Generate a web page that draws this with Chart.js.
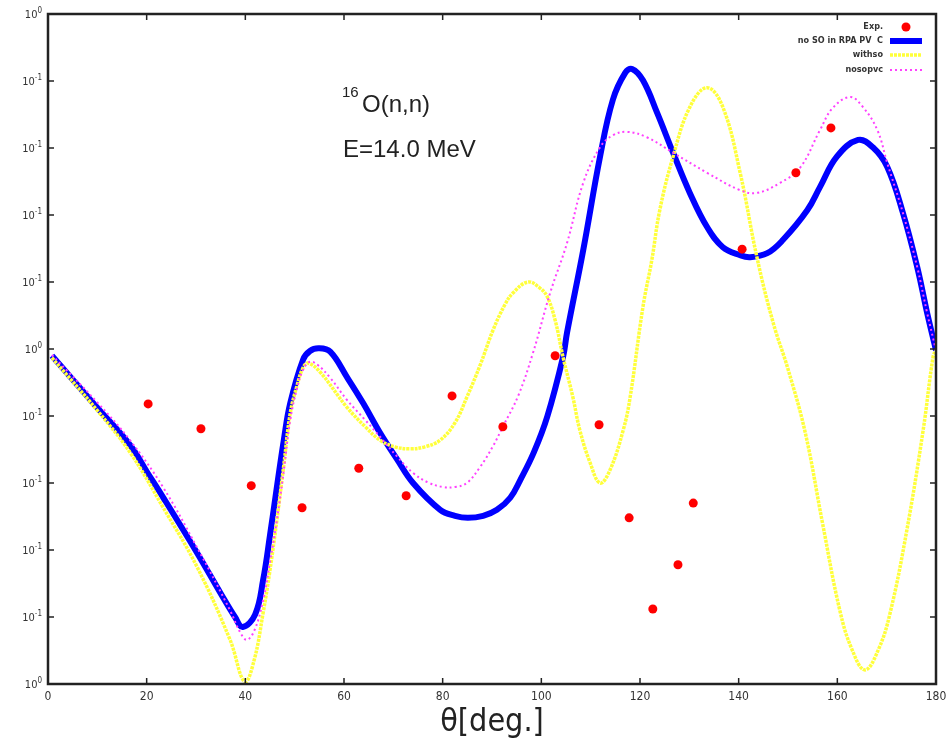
<!DOCTYPE html>
<html>
<head>
<meta charset="utf-8">
<title>16O(n,n) E=14.0 MeV</title>
<script src="https://cdn.jsdelivr.net/npm/chart.js@4.4.1/dist/chart.umd.min.js"></script>
<style>
  html, body { margin: 0; padding: 0; background: #fff; }
  canvas { display: block; }
</style>
</head>
<body>
<canvas id="xsec" width="946" height="748"></canvas>
<script>
// angles in degrees, cross sections as decade exponents on the log axis
const expDeg = [20.3, 31.0, 41.2, 51.5, 63.0, 72.6, 81.9, 92.2, 102.8, 111.7, 117.8, 122.6, 127.7, 130.8, 140.7, 151.6, 158.7];
const expExp = [-0.82, -1.19, -2.04, -2.37, -1.78, -2.19, -0.70, -1.16, -0.10, -1.13, -2.52, -3.88, -3.22, -2.30, 1.49, 2.63, 3.30];

const noSoDeg = [0.8, 9.9, 16.6, 20.1, 23.3, 30.2, 35.1, 37.9, 39.5, 42.0, 43.6, 45.0, 46.4, 47.8, 49.1, 51.7, 53.1, 54.9, 57.2,
  60.6, 63.9, 67.3, 70.7, 74.0, 79.5, 82.5, 85.1, 88.2, 91.0, 93.7, 95.7, 98.5, 101.2, 104.4, 105.2, 108.5, 111.9, 114.5, 117.0,
  118.4, 120.6, 123.5, 126.7, 130.1, 133.6, 136.8, 140.3, 142.3, 145.8, 149.0, 153.9, 156.5, 159.9, 164.2, 167.2, 170.1, 173.3,
  176.2, 178.2, 180];
const noSoExp = [-0.10, -0.87, -1.43, -1.84, -2.21, -3.04, -3.66, -4.00, -4.15, -3.96, -3.45, -2.78, -2.06, -1.36, -0.81, -0.16, -0.03, 0.01, -0.04,
  -0.42, -0.81, -1.25, -1.64, -2.00, -2.40, -2.49, -2.52, -2.49, -2.40, -2.22, -1.96, -1.54, -1.01, -0.12, 0.24, 1.48, 2.87, 3.72, 4.12,
  4.18, 4.01, 3.52, 2.93, 2.33, 1.82, 1.52, 1.40, 1.37, 1.43, 1.63, 2.07, 2.42, 2.87, 3.12, 3.01, 2.72, 2.03,
  1.22, 0.54, -0.02];

const withsoDeg = [0.8, 9.9, 16.6, 23.3, 30.2, 36.9, 39.9, 41.8, 43.6, 45.0, 46.4, 47.8, 49.1, 50.5, 51.7, 52.7, 55.1, 60.6, 64.3,
  67.3, 70.3, 73.4, 76.4, 79.5, 82.5, 84.9, 87.6, 90.2, 92.6, 94.3, 97.3, 99.7, 101.2, 102.8, 104.4, 106.4, 107.8, 109.9, 111.9,
  113.9, 116.6, 118.0, 120.6, 122.4, 124.0, 126.7, 130.1, 133.6, 136.8, 140.3, 143.7, 147.0, 150.0, 153.5, 157.0, 160.5, 163.0,
  165.6, 168.3, 170.7, 174.1, 177.4, 179.4, 180];
const withsoExp = [-0.13, -0.91, -1.54, -2.36, -3.25, -4.34, -4.97, -4.64, -3.94, -3.30, -2.55, -1.73, -0.96, -0.54, -0.28, -0.21, -0.34, -0.87, -1.16,
  -1.36, -1.46, -1.49, -1.46, -1.36, -1.10, -0.72, -0.24, 0.28, 0.66, 0.84, 1.00, 0.91, 0.78, 0.43, -0.12, -0.72, -1.21, -1.70, -2.00,
  -1.81, -1.21, -0.72, 0.63, 1.33, 2.07, 2.87, 3.61, 3.90, 3.61, 2.63, 1.37, 0.39, -0.30, -1.25, -2.60, -3.90, -4.49,
  -4.79, -4.49, -3.94, -2.70, -1.21, -0.12, -0.01];

const nosopvcDeg = [0.8, 9.9, 16.6, 23.3, 30.2, 36.9, 38.9, 40.3, 41.9, 43.6, 45.0, 46.4, 47.8, 49.1, 50.5, 51.7, 53.1, 54.7, 57.2,
  60.6, 64.3, 67.3, 70.7, 74.0, 77.0, 80.1, 82.5, 84.9, 87.6, 90.2, 92.2, 95.3, 98.3, 101.8, 105.2, 108.5, 111.9, 114.5, 117.4,
  121.4, 126.7, 133.6, 140.3, 143.7, 148.4, 152.4, 156.5, 159.1, 162.6, 165.2, 168.1, 170.1, 173.3, 176.2, 178.2, 180];
const nosopvcExp = [-0.09, -0.79, -1.36, -2.06, -2.96, -3.90, -4.22, -4.34, -4.19, -3.75, -3.18, -2.55, -1.81, -1.06, -0.58, -0.31, -0.19, -0.24, -0.43,
  -0.76, -1.06, -1.31, -1.60, -1.85, -1.99, -2.06, -2.06, -2.00, -1.76, -1.45, -1.16, -0.70, -0.06, 0.84, 1.58, 2.48, 3.01, 3.19, 3.24,
  3.16, 2.93, 2.63, 2.37, 2.33, 2.48, 2.70, 3.27, 3.60, 3.76, 3.61, 3.27, 2.78, 2.03, 1.22, 0.54, -0.02];

const xTicks = [0, 20, 40, 60, 80, 100, 120, 140, 160, 180];
const yTickExps = [-5, -4, -3, -2, -1, 0, 1, 2, 3, 4, 5];
// exponent printed next to each "10", bottom to top
const yTickSup = ['0', '-1', '-1', '-1', '-1', '0', '-1', '-1', '-1', '-1', '0'];

const NARROW = "'Liberation Sans Narrow', 'DejaVu Sans Condensed', 'Liberation Sans', sans-serif";
const TXT = '#333';

const toPts = (xs, es) => xs.map((x, i) => ({ x, y: 10 ** es[i] }));

// frame, inward ticks, y labels, legend and reaction label
const decor = {
  id: 'decor',
  afterDraw(chart) {
    const { ctx, chartArea: a, scales: { x, y } } = chart;
    ctx.save();

    ctx.strokeStyle = '#222';
    ctx.lineWidth = 1.5;
    ctx.beginPath();
    xTicks.forEach(t => {
      const px = x.getPixelForValue(t);
      ctx.moveTo(px, a.bottom); ctx.lineTo(px, a.bottom - 6);
      ctx.moveTo(px, a.top); ctx.lineTo(px, a.top + 6);
    });
    yTickExps.forEach(e => {
      const py = y.getPixelForValue(10 ** e);
      ctx.moveTo(a.left, py); ctx.lineTo(a.left + 6, py);
      ctx.moveTo(a.right, py); ctx.lineTo(a.right - 6, py);
    });
    ctx.stroke();

    ctx.lineWidth = 2.5;
    ctx.strokeRect(a.left, a.top, a.right - a.left, a.bottom - a.top);

    // y labels 10^k
    ctx.fillStyle = TXT;
    ctx.textBaseline = 'alphabetic';
    yTickExps.forEach((e, i) => {
      const py = y.getPixelForValue(10 ** e);
      const sup = yTickSup[i];
      ctx.font = '8px ' + NARROW;
      const sw = ctx.measureText(sup).width;
      ctx.textAlign = 'left';
      ctx.fillText(sup, 42 - sw, py - 1);
      ctx.font = '11px ' + NARROW;
      ctx.textAlign = 'right';
      ctx.fillText('10', 42 - sw, py + 4);
    });

    // legend
    const lx = 883, sx0 = 890, sx1 = 922;
    const rows = [27, 41, 55, 70];
    ctx.font = 'bold 9px ' + NARROW;
    ctx.textAlign = 'right';
    ctx.textBaseline = 'middle';
    chart.data.datasets.forEach((ds, i) => {
      const ry = rows[i];
      ctx.fillStyle = TXT;
      ctx.fillText(ds.label, lx, ry);
      if (ds.showLine === false) {
        ctx.fillStyle = ds.pointBackgroundColor;
        ctx.beginPath();
        ctx.arc(906, ry, 4.5, 0, Math.PI * 2);
        ctx.fill();
      } else {
        ctx.strokeStyle = ds.borderColor;
        ctx.lineWidth = ds.borderWidth;
        ctx.setLineDash(ds.borderDash || []);
        ctx.beginPath();
        ctx.moveTo(sx0, ry); ctx.lineTo(sx1, ry);
        ctx.stroke();
        ctx.setLineDash([]);
      }
    });

    // reaction label
    ctx.fillStyle = '#222';
    ctx.textAlign = 'left';
    ctx.textBaseline = 'alphabetic';
    ctx.font = '15px "Liberation Sans", sans-serif';
    ctx.fillText('16', 342, 97);
    ctx.font = '24px "Liberation Sans", sans-serif';
    ctx.fillText('O(n,n)', 362, 112);
    ctx.fillText('E=14.0 MeV', 343, 157);

    ctx.restore();
  }
};

new Chart(document.getElementById('xsec'), {
  type: 'line',
  data: {
    datasets: [
      { label: 'Exp.', data: toPts(expDeg, expExp), showLine: false, pointRadius: 4.5,
        pointBackgroundColor: '#ff0000', pointBorderWidth: 0, order: 0 },
      { label: 'no SO in RPA PV  C', data: toPts(noSoDeg, noSoExp), borderColor: '#0000ff', borderWidth: 6,
        pointRadius: 0, tension: 0.4, order: 3 },
      { label: 'withso', data: toPts(withsoDeg, withsoExp), borderColor: '#ffff3a', borderWidth: 3.5,
        borderDash: [3, 1], pointRadius: 0, tension: 0.4, order: 2 },
      { label: 'nosopvc', data: toPts(nosopvcDeg, nosopvcExp), borderColor: '#ff40ff', borderWidth: 2,
        borderDash: [2, 3], pointRadius: 0, tension: 0.4, order: 1 }
    ]
  },
  options: {
    responsive: false,
    animation: false,
    devicePixelRatio: 1,
    layout: { padding: { top: 14, right: 10, left: 0, bottom: 0 } },
    plugins: { legend: { display: false }, tooltip: { enabled: false } },
    scales: {
      x: {
        type: 'linear', min: 0, max: 180,
        afterBuildTicks: s => { s.ticks = xTicks.map(v => ({ value: v })); },
        afterFit: s => { s.height = 64; s.paddingLeft = 0; s.paddingRight = 0; },
        grid: { display: false, drawTicks: false },
        border: { display: false },
        ticks: { padding: 6, color: TXT, font: { family: NARROW, size: 12 }, maxRotation: 0 },
        title: { display: true, text: 'θ[deg.]', color: '#222',
          font: { family: NARROW, size: 32 }, padding: { top: 0, bottom: 6 } }
      },
      y: {
        type: 'logarithmic', min: 1e-5, max: 1e5,
        afterBuildTicks: s => { s.ticks = yTickExps.map(e => ({ value: 10 ** e })); },
        afterFit: s => { s.width = 48; s.paddingTop = 0; s.paddingBottom = 0; },
        grid: { display: false, drawTicks: false },
        border: { display: false },
        ticks: { display: false }
      }
    }
  },
  plugins: [decor]
});
</script>
</body>
</html>
